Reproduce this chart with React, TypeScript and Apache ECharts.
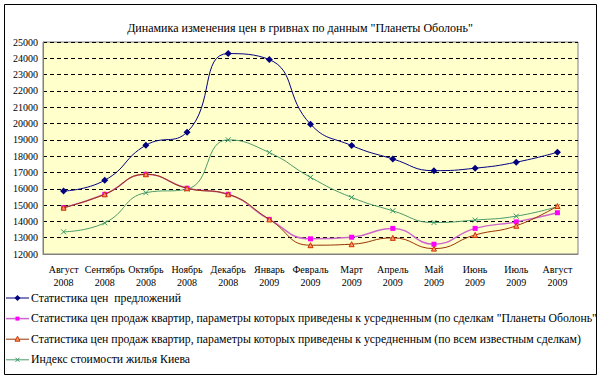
import React, { useEffect, useRef } from "react";
import * as echarts from "echarts";

const categories = [
  "Август\n2008", "Сентябрь\n2008", "Октябрь\n2008", "Ноябрь\n2008", "Декабрь\n2008",
  "Январь\n2009", "Февраль\n2009", "Март\n2009", "Апрель\n2009", "Май\n2009",
  "Июнь\n2009", "Июль\n2009", "Август\n2009",
];
const offers = [15860, 16520, 18670, 19470, 24290, 23920, 19960, 18650, 17830, 17110, 17260, 17630, 18240];
const salesObolon = [14840, 15660, 16890, 16030, 15660, 14120, 12930, 13030, 13570, 12600, 13570, 13970, 14530];
const salesAll = [14840, 15660, 16890, 16030, 15660, 14120, 12540, 12600, 12990, 12330, 13170, 13730, 14940];
const kievIndex = [13360, 13910, 15760, 15980, 19000, 18220, 16700, 15470, 14650, 13930, 14080, 14320, 14900];

const seriesNames = [
  "Статистика цен  предложений",
  "Статистика цен продаж квартир, параметры которых приведены к усредненным (по сделкам \"Планеты Оболонь\")",
  "Статистика цен продаж квартир, параметры которых приведены к усредненным (по всем известным сделкам)",
  "Индекс стоимости жилья Киева",
];
const lineColors = ["#000080", "#CC66CC", "#993300", "#4C9A6A"];

const FONT = "Times New Roman";

function legendGraphic() {
  const els: any[] = [];
  const x0 = 6;
  const x1 = 29;
  const cx = (x0 + x1) / 2;
  seriesNames.forEach((name, i) => {
    const y = 298 + i * 20.6;
    els.push({
      type: "line",
      shape: { x1: x0, y1: y, x2: x1, y2: y },
      style: { stroke: lineColors[i], lineWidth: i === 1 ? 1.5 : 1 },
    });
    if (i === 0) {
      els.push({
        type: "polygon",
        shape: { points: [[cx, y - 3], [cx + 3, y], [cx, y + 3], [cx - 3, y]] },
        style: { fill: "#000080" },
      });
    } else if (i === 1) {
      els.push({
        type: "rect",
        shape: { x: cx - 2, y: y - 2, width: 4, height: 4 },
        style: { fill: "#FF00FF" },
      });
    } else if (i === 2) {
      els.push({
        type: "polygon",
        shape: { points: [[cx, y - 3], [cx + 2.5, y + 2], [cx - 2.5, y + 2]] },
        style: { fill: "#FF9966", stroke: "#CC3300", lineWidth: 1 },
      });
    } else {
      els.push({
        type: "line",
        shape: { x1: cx - 2, y1: y - 2, x2: cx + 2, y2: y + 2 },
        style: { stroke: "#339966", lineWidth: 1 },
      });
      els.push({
        type: "line",
        shape: { x1: cx + 2, y1: y - 2, x2: cx - 2, y2: y + 2 },
        style: { stroke: "#339966", lineWidth: 1 },
      });
    }
    els.push({
      type: "text",
      x: 31,
      y,
      style: {
        text: name,
        fill: "#000",
        fontFamily: FONT,
        fontSize: 11.75,
        fontWeight: "normal",
        verticalAlign: "middle",
        align: "left",
      },
    });
  });
  return els;
}

export default function App() {
  const ref = useRef<HTMLDivElement>(null);
  useEffect(() => {
    if (!ref.current) return;
    const chart = echarts.init(ref.current, undefined, { renderer: "svg" });
    chart.setOption({
      animation: false,
      backgroundColor: "#ffffff",
      textStyle: { fontFamily: FONT },
      title: {
        text: "Динамика изменения цен в гривнах по данным \"Планеты Оболонь\"",
        left: "center",
        top: 17,
        textStyle: { fontFamily: FONT, fontSize: 12, fontWeight: "normal", color: "#000" },
      },
      graphic: [
        ...legendGraphic(),
        {
          type: "rect",
          shape: { x: 597, y: 0, width: 3, height: 381 },
          style: { fill: "#ffffff" },
          z: 99,
        },
        {
          type: "rect",
          shape: { x: 4.5, y: 4.5, width: 592, height: 370 },
          style: { fill: "none", stroke: "#000", lineWidth: 1 },
          z: 100,
        },
      ],
      grid: {
        left: 43,
        right: 22,
        top: 42,
        bottom: 127,
        show: true,
        backgroundColor: "#FFFFCC",
        borderColor: "#808080",
        borderWidth: 1,
      },
      legend: { show: false },
      xAxis: {
        type: "category",
        data: categories,
        boundaryGap: true,
        axisLine: { lineStyle: { color: "#808080" } },
        axisTick: { show: false },
        axisLabel: {
          interval: 0,
          color: "#000",
          fontFamily: FONT,
          fontWeight: "normal",
          fontSize: 10,
          lineHeight: 13,
          margin: 9,
        },
      },
      yAxis: {
        type: "value",
        min: 12000,
        max: 25000,
        interval: 1000,
        axisLine: { show: true, lineStyle: { color: "#808080" } },
        axisTick: { show: false },
        axisLabel: {
          color: "#000",
          fontFamily: FONT,
          fontWeight: "normal",
          fontSize: 10,
          margin: 5,
          formatter: (v: number) => String(v),
        },
        splitLine: { lineStyle: { color: "#000", type: [4, 3], width: 1 } },
      },
      series: [
        {
          name: seriesNames[0],
          type: "line",
          data: offers,
          smooth: 0.5,
          symbol: "diamond",
          symbolSize: 7,
          lineStyle: { color: lineColors[0], width: 1 },
          itemStyle: { color: "#000080" },
          z: 5,
        },
        {
          name: seriesNames[1],
          type: "line",
          data: salesObolon,
          smooth: 0.5,
          symbol: "rect",
          symbolSize: 5,
          lineStyle: { color: lineColors[1], width: 1.5 },
          itemStyle: { color: "#FF00FF" },
          z: 3,
        },
        {
          name: seriesNames[2],
          type: "line",
          data: salesAll,
          smooth: 0.5,
          symbol: "triangle",
          symbolSize: 5,
          lineStyle: { color: lineColors[2], width: 1 },
          itemStyle: { color: "#FF9966", borderColor: "#CC3300", borderWidth: 1 },
          z: 4,
        },
        {
          name: seriesNames[3],
          type: "line",
          data: kievIndex,
          smooth: 0.5,
          symbol: "path://M0,0L10,10M10,0L0,10",
          symbolSize: 5,
          lineStyle: { color: lineColors[3], width: 1 },
          itemStyle: { color: "none", borderColor: "#339966", borderWidth: 1 },
          z: 2,
        },
      ],
    });
    return () => chart.dispose();
  }, []);
  return (
    <div
      ref={ref}
      style={{ position: "absolute", left: 0, top: 0, width: 600, height: 381 }}
    />
  );
}
